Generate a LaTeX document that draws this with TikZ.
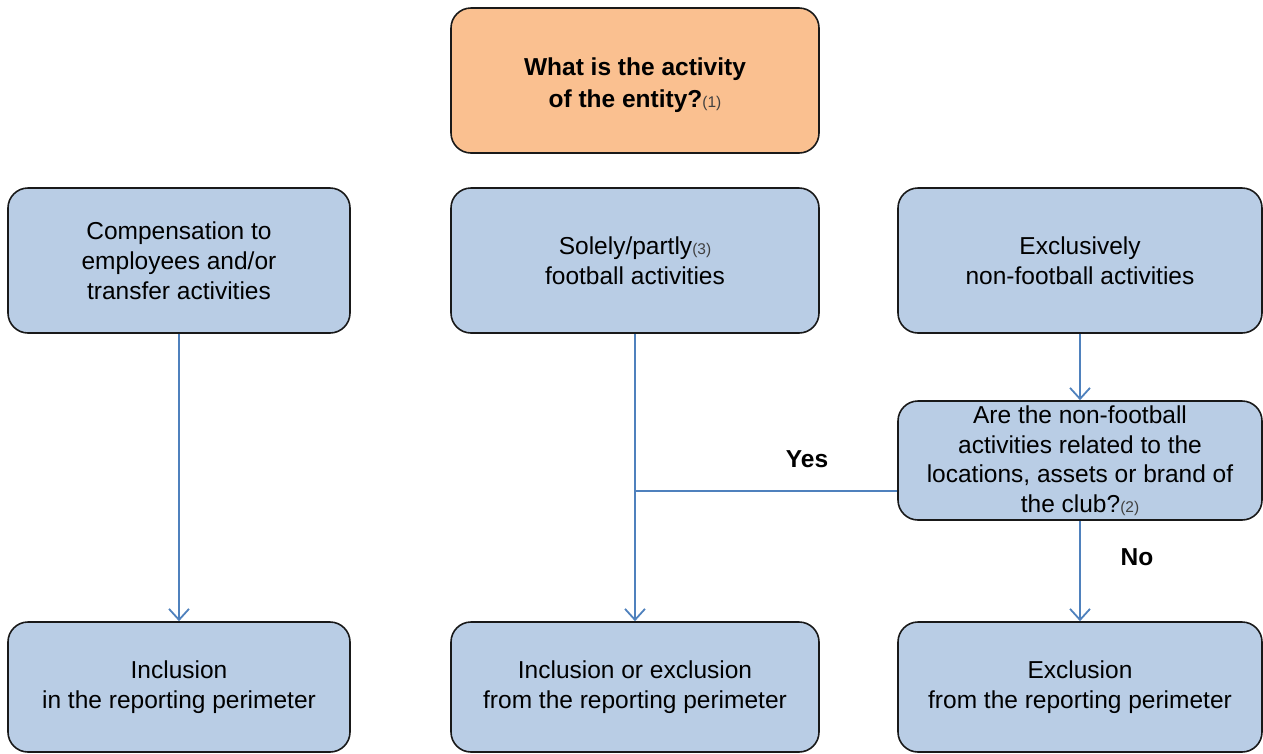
\documentclass[tikz,border=0pt]{standalone}
\usepackage{fontspec}
\setmainfont{Liberation Sans}
\usetikzlibrary{arrows.meta}
\definecolor{boxblue}{HTML}{B9CDE5}
\definecolor{boxorange}{HTML}{FAC090}
\definecolor{linkblue}{HTML}{4F81BD}
\newcommand{\fnref}[1]{{\fontsize{15.5}{18}\selectfont\mdseries\color{black!75}(#1)}}
\begin{document}
\begin{tikzpicture}[x=1pt,y=-1pt,
  box/.style={draw=black!90, line width=1.6pt, rounded corners=20pt, fill=boxblue,
    align=center, inner sep=0pt, font=\fontsize{24.5}{30}\selectfont},
  qbox/.style={box, fill=boxorange},
  qtext/.style={align=center, inner sep=0pt, font=\fontsize{24.5}{32}\selectfont\bfseries},
  link/.style={draw=linkblue, line width=1.8pt},
  arr/.style={link, -{Straight Barb[length=11pt,width=20pt,line width=1.8pt]}},
  lbl/.style={font=\fontsize{24.5}{30}\selectfont\bfseries, inner sep=0pt}]
\useasboundingbox (0,0) rectangle (1263,753);

% question at the top
\node[qbox, minimum width=368, minimum height=145] (top) at (635,80.5) {};
\node[qtext] (toptxt) at (635,85) {What is the activity\\ of the entity?\fnref{1}};

% activity categories
\node[box, minimum width=342, minimum height=145] (comp) at (179,260.5)
  {Compensation to\\employees and/or\\transfer activities};
\node[box, minimum width=368, minimum height=145] (foot) at (635,260.5)
  {Solely/partly\fnref{3}\\football activities};
\node[box, minimum width=364, minimum height=145] (nonf) at (1080,260.5)
  {Exclusively\\non-football activities};

\node[box, minimum width=364, minimum height=119,
  font=\fontsize{24.5}{29.5}\selectfont] (quest) at (1080,460.5)
  {Are the non-football\\activities related to the\\locations, assets or brand of\\the club?\fnref{2}};

% outcomes
\node[box, minimum width=342, minimum height=130] (incl) at (179,687)
  {Inclusion\\in the reporting perimeter};
\node[box, minimum width=368, minimum height=130] (inex) at (635,687)
  {Inclusion or exclusion\\from the reporting perimeter};
\node[box, minimum width=364, minimum height=130] (excl) at (1080,687)
  {Exclusion\\from the reporting perimeter};

\coordinate (yesj) at (635,491);

\draw[arr] (comp.south) -- (incl.north);
\draw[arr] (foot.south) -- (inex.north);
\draw[arr] (nonf.south) -- (quest.north);
\draw[arr] (quest.south) -- (excl.north);
\draw[link] (quest.west |- yesj) -- (yesj);

\node[lbl] (yes) at (807,459) {Yes};
\node[lbl] (no) at (1137,557) {No};
\end{tikzpicture}
\end{document}
